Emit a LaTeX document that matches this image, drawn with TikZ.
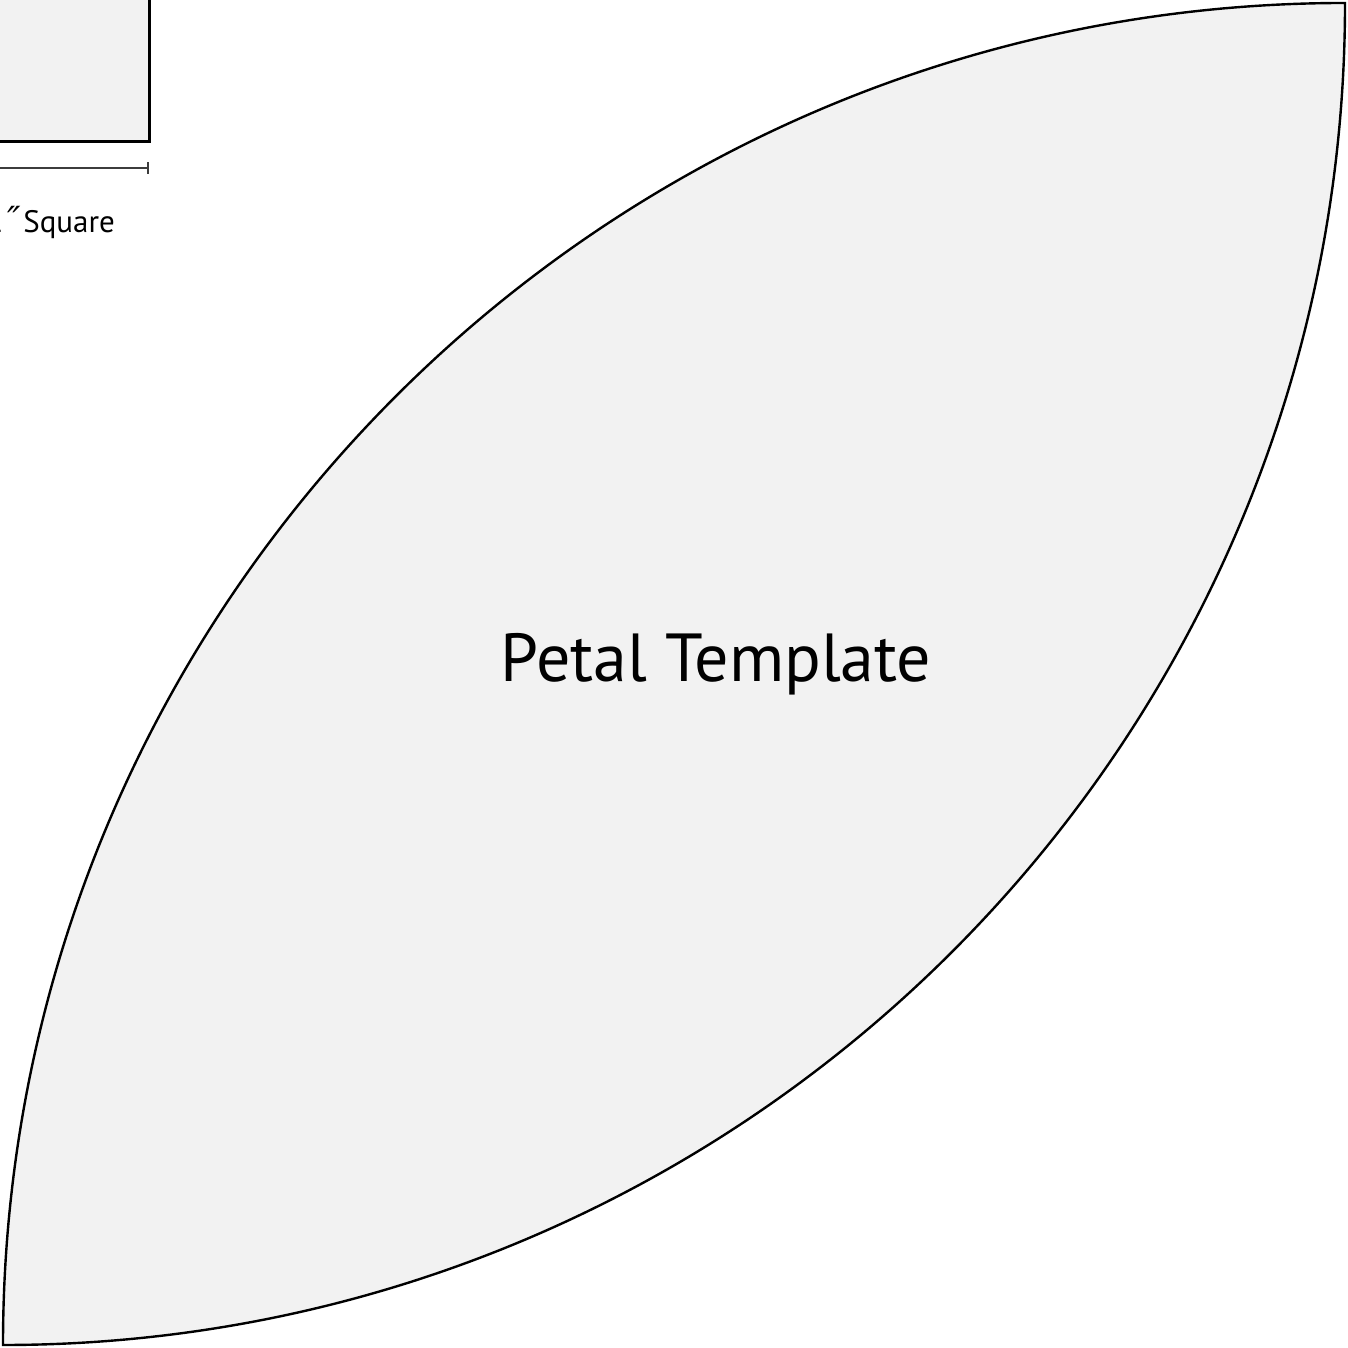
\documentclass[tikz,border=0pt]{standalone}
\usepackage{fontspec}
\setmainfont{PT Sans}
\newfontfamily\symfont{DejaVu Sans}
\begin{document}
\begin{tikzpicture}[x=1pt,y=1pt,
    outline/.style={draw=black, line width=2.4pt},
    label/.style={inner sep=0pt, anchor=base}]
    % Define colors
    \definecolor{papergray}{RGB}{242,242,242}
    \definecolor{rulegray}{RGB}{60,60,60}
    \useasboundingbox (0,0) rectangle (1347,1348);
    \clip (0,0) rectangle (1347,1348);

    % Draw the size square
    \filldraw[fill=papergray, draw=black, line width=3pt] (-5,1206) rectangle (149,1360);

    % Draw the measuring line
    \coordinate (rulestart) at (-10,1180);
    \coordinate (ruleend) at (148,1180);
    \draw[rulegray, line width=2pt] (rulestart) -- (ruleend);
    \draw[rulegray, line width=2pt] ([yshift=-6]ruleend) -- ([yshift=6]ruleend);
    \node[label, anchor=base east, font=\fontsize{31}{34}\selectfont] (sizelabel) at (115,1115)
        {1\hspace{4pt}{\symfont\fontsize{36}{40}\selectfont\itshape ″}\hspace{2.5pt}Square};

    % Draw petal
    \coordinate (tipA) at (3,3);
    \coordinate (tipB) at (1345,1345);
    \filldraw[fill=papergray, outline] (tipA) arc[start angle=180, end angle=90, radius=1342]
        arc[start angle=0, end angle=-90, radius=1342] -- cycle;

    % Label petal
    \node[label, font=\fontsize{68}{76}\selectfont] (title) at (716,666) {Petal Template};
\end{tikzpicture}
\end{document}
